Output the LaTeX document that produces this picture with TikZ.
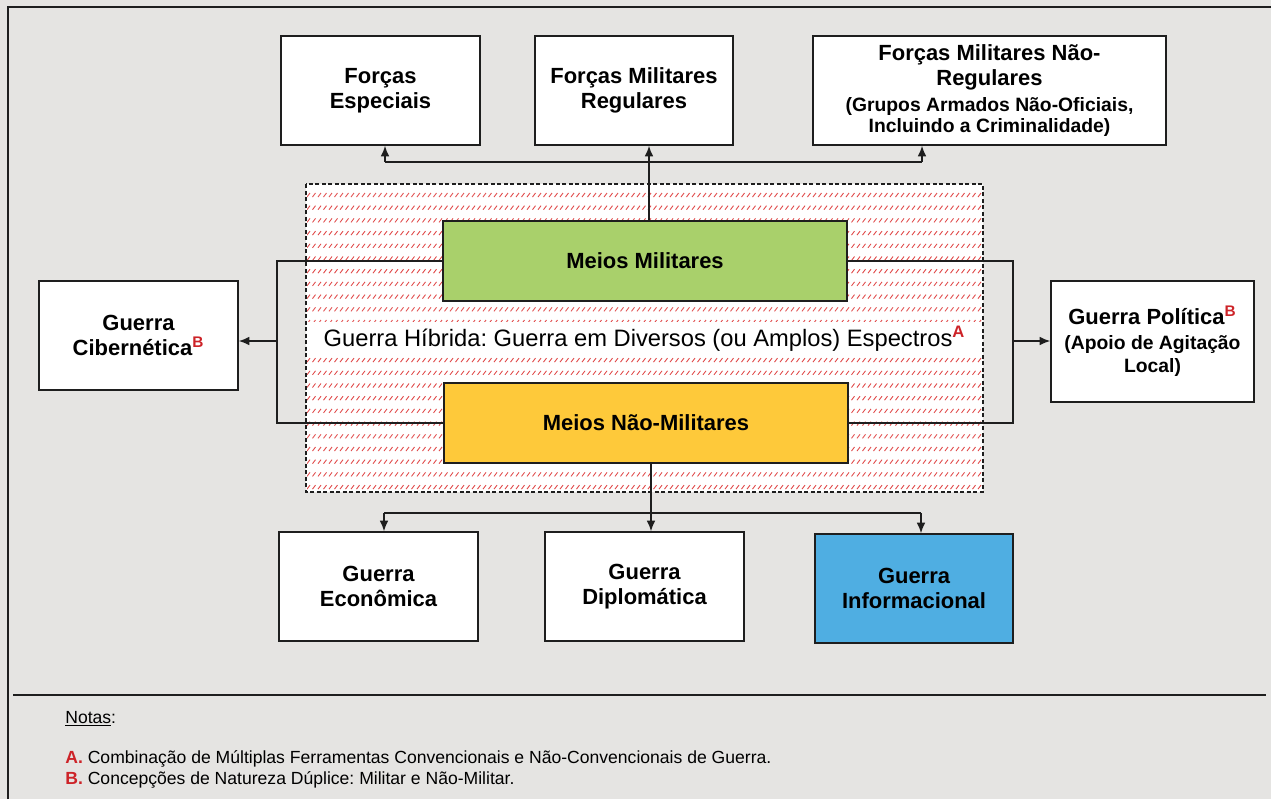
\documentclass[tikz,border=0pt]{standalone}
\usepackage{fontspec}
\setmainfont{Liberation Sans}
\usetikzlibrary{arrows.meta,calc}
\definecolor{bg}{RGB}{229,228,226}
\definecolor{mgreen}{RGB}{169,208,107}
\definecolor{myellow}{RGB}{254,201,58}
\definecolor{mblue}{RGB}{79,174,226}
\definecolor{hred}{RGB}{225,75,75}
\definecolor{nred}{RGB}{205,35,40}
\definecolor{edge}{RGB}{30,30,30}
\newcommand{\supA}{\textsuperscript{\textcolor{nred}{\bfseries A}}}
\newcommand{\supB}{\textsuperscript{\textcolor{nred}{\bfseries B}}}
\newcommand{\subf}{\fontsize{11}{12.5}\selectfont}
\frenchspacing
\begin{document}
\begin{tikzpicture}[x=0.02cm,y=-0.02cm,
  box/.style={draw=edge, line width=0.9pt, fill=white, align=center, inner sep=0pt,
    font=\fontsize{12.5}{14.2}\selectfont\bfseries},
  conn/.style={draw=edge, line width=0.9pt},
  arr/.style={conn, -{Latex[length=6pt,width=5pt]}},
  note/.style={anchor=base west, inner sep=0pt, font=\fontsize{10}{12}\selectfont},
]
\useasboundingbox (0,0) rectangle (1271,799);
\fill[bg] (0,0) rectangle (1271,799);
\draw[edge, line width=1.1pt] (8,799) -- (8,7) -- (1271,7);
% hatched region
\fill[white] (306,184) rectangle (983,492);
\begin{scope}
\clip (307,185) rectangle (982,491);
\draw[hred, line width=0.5pt] \foreach \r in {0,...,23} { \foreach \c in {0,...,123} { ({307+5.5*\c},{195+12.7*\r+2}) -- ++(3,-4) } };
\end{scope}
\node[fill=white, minimum width=13.5cm, minimum height=0.68cm, inner sep=0pt,
  font=\fontsize{13.5}{16}\selectfont] (ht) at (644.5,339)
  {Guerra Híbrida: Guerra em Diversos (ou Amplos) Espectros\supA};
\draw[edge, line width=0.8pt, dash pattern=on 2.4pt off 1.3pt] (306,184) rectangle (983,492);

% boxes
\node[box, minimum width=3.98cm, minimum height=2.18cm] (fe) at (380.5,90.5) {Forças\\Especiais};
\node[box, minimum width=3.96cm, minimum height=2.18cm] (fr) at (634,90.5) {Forças Militares\\Regulares};
\node[box, minimum width=7.06cm, minimum height=2.18cm] (fn) at (989.5,90.5)
  {Forças Militares Não-\\Regulares\\[0.8pt]{\subf (Grupos Armados Não-Oficiais,}\\[-2pt]{\subf Incluindo a Criminalidade)}};
\node[box, fill=mgreen, minimum width=8.08cm, minimum height=1.6cm] (mm) at (645,261) {Meios Militares};
\node[box, fill=myellow, minimum width=8.08cm, minimum height=1.6cm] (mn) at (646,423) {Meios Não-Militares};
\node[box, minimum width=3.98cm, minimum height=2.18cm] (gc) at (138.5,335.5) {Guerra\\Cibernética\supB};
\node[box, minimum width=4.06cm, minimum height=2.42cm] (gp) at (1152.5,341.5)
  {Guerra Política\supB\\[0pt]{\subf (Apoio de Agitação}\\[-1pt]{\subf Local)}};
\node[box, minimum width=3.98cm, minimum height=2.18cm] (ge) at (378.5,586.5) {Guerra\\Econômica};
\node[box, minimum width=3.98cm, minimum height=2.18cm] (gd) at (644.5,586.5) {Guerra\\Diplomática};
\node[box, fill=mblue, minimum width=3.96cm, minimum height=2.18cm] (gi) at (914,588.5) {Guerra\\Informacional};

% top connectors
\coordinate (top) at (649,162);
\coordinate (tl) at (385,162);
\coordinate (tr) at (922,162);
\draw[arr] (mm.north -| top) -- (fr.south -| top);
\draw[conn] (tl) -- (tr);
\draw[arr] (tl) -- (tl |- fe.south);
\draw[arr] (tr) -- (tr |- fn.south);
% side connectors
\coordinate (L) at (277,341);
\coordinate (R) at (1013,341);
\draw[conn] (mm.west) -| (L) |- (mn.west);
\draw[arr] (L) -- (L -| gc.east);
\draw[conn] (mm.east) -| (R) |- (mn.east);
\draw[arr] (R) -- (R -| gp.west);
% bottom connectors
\coordinate (B) at (651,513);
\coordinate (bl) at (384,513);
\coordinate (br) at (921,513);
\draw[arr] (mn.south -| B) -- (gd.north -| B);
\draw[conn] (bl) -- (br);
\draw[arr] (bl) -- (bl |- ge.north);
\draw[arr] (br) -- (br |- gi.north);

% notes
\draw[edge, line width=1.1pt] (13,695) -- (1266,695);
\node[note] (notas) at (65,723) {\underline{Notas}:};
\node[note] (na) at (65,763) {\textcolor{nred}{\bfseries A.} Combinação de Múltiplas Ferramentas Convencionais e Não-Convencionais de Guerra.};
\node[note] (nb) at (65,784) {\textcolor{nred}{\bfseries B.} Concepções de Natureza Dúplice: Militar e Não-Militar.};
\end{tikzpicture}
\end{document}
